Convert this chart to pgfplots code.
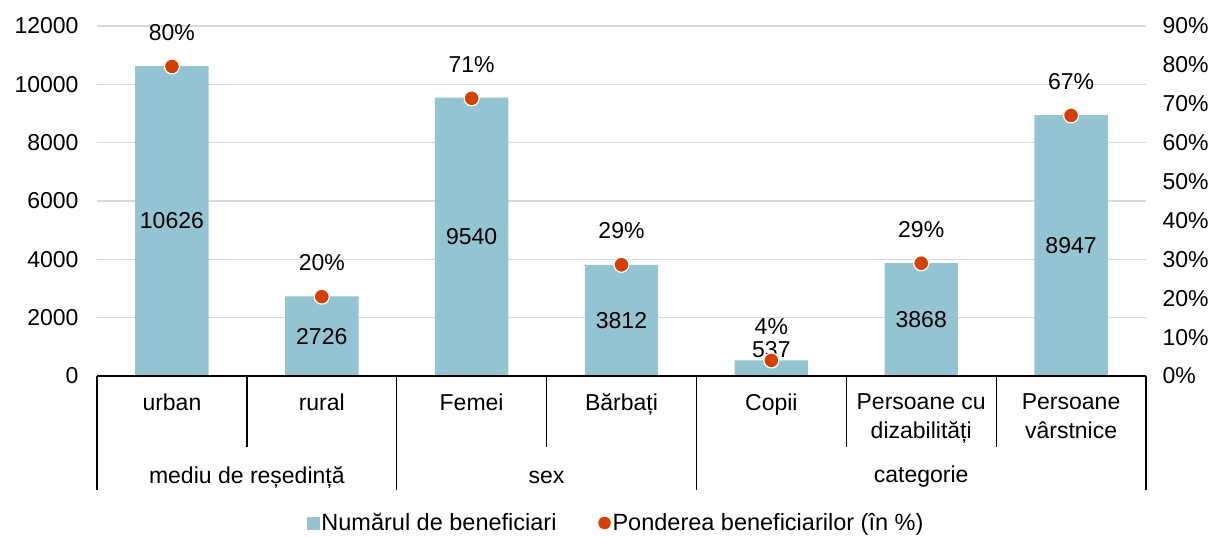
\documentclass[border=0pt]{standalone}
\usepackage{pgfplots}
\pgfplotsset{compat=1.18}
\usepackage{fontspec}
\setmainfont{Liberation Sans}
\definecolor{barcol}{RGB}{148,195,210}
\definecolor{dotcol}{RGB}{212,64,0}
\definecolor{gridcol}{RGB}{217,217,217}
\begin{document}
\begin{tikzpicture}[font=\fontsize{23}{28}\selectfont]
\begin{axis}[name=main, scale only axis, width=1049pt, height=350pt,
 xmin=-0.5, xmax=6.5, ymin=0, ymax=12000,
 axis line style={draw=none}, tick style={draw=none},
 scaled y ticks=false,
 ytick={0,2000,...,12000}, yticklabels={0,2000,4000,6000,8000,10000,12000},
 ymajorgrids, grid style={gridcol, line width=1.3pt},
 xtick={0,...,6},
 xticklabels={urban,rural,Femei,Bărbați,Copii,Persoane cu\\dizabilități,Persoane\\vârstnice},
 xticklabel style={align=center, anchor=north, yshift=-14pt, font=\fontsize{23}{29}\selectfont},
 yticklabel style={xshift=-15pt},
 clip=false]
\addplot[ybar, bar width=0.49, fill=barcol, draw=none] coordinates {(0,10626)(1,2726)(2,9540)(3,3812)(4,537)(5,3868)(6,8947)};
\addplot[draw=none, mark=none, nodes near coords, point meta=explicit symbolic,
  nodes near coords style={anchor=center}] coordinates {(0,5313)[10626] (1,1363)[2726] (2,4770)[9540] (3,1906)[3812] (4,891)[537] (5,1934)[3868] (6,4474)[8947]};
\draw[line width=1.3pt] (axis cs:-0.5,0) -- (axis cs:6.5,0);
\draw[line width=1.3pt] (axis cs:-0.5,0) -- ++(0pt,-114pt);
\draw[line width=1.3pt] (axis cs:1.5,0) -- ++(0pt,-114pt);
\draw[line width=1.3pt] (axis cs:3.5,0) -- ++(0pt,-114pt);
\draw[line width=1.3pt] (axis cs:6.5,0) -- ++(0pt,-114pt);
\draw[line width=1.3pt] (axis cs:0.5,0) -- ++(0pt,-71pt);
\draw[line width=1.3pt] (axis cs:2.5,0) -- ++(0pt,-71pt);
\draw[line width=1.3pt] (axis cs:4.5,0) -- ++(0pt,-71pt);
\draw[line width=1.3pt] (axis cs:5.5,0) -- ++(0pt,-71pt);
\node at (axis cs:0.5,0) [yshift=-101pt] {mediu de reședință};
\node at (axis cs:2.5,0) [yshift=-101pt] {sex};
\node at (axis cs:5,0) [yshift=-101pt] {categorie};
\end{axis}
\begin{axis}[scale only axis, width=1049pt, height=350pt,
 xmin=-0.5, xmax=6.5, ymin=0, ymax=90,
 axis line style={draw=none}, tick style={draw=none},
 xtick=\empty, ytick={0,10,...,90},
 yticklabels={0\%,10\%,20\%,30\%,40\%,50\%,60\%,70\%,80\%,90\%},
 yticklabel pos=right, yticklabel style={xshift=13pt},
 clip=false,
 legend style={draw=none, fill=none, at={(0.495,-0.42)}, anchor=center, legend columns=2,
   font=\fontsize{23.5}{28}\selectfont,
   /tikz/every even column/.append style={column sep=40pt}}]
\addplot[only marks, mark=*, mark size=7.5pt, mark options={fill=dotcol, draw=white, line width=1.2pt},
  nodes near coords, point meta=explicit symbolic,
  nodes near coords style={anchor=center, yshift=34pt}, forget plot]
  coordinates {(0,79.6)[80\%] (1,20.4)[20\%] (2,71.4)[71\%] (3,28.6)[29\%] (4,4.0)[4\%] (5,29.0)[29\%] (6,67.0)[67\%]};
\addlegendimage{legend image code/.code={\fill[barcol] (6pt,-6pt) rectangle (18pt,6pt);}}
\addlegendentry{Numărul de beneficiari}
\addlegendimage{only marks, mark=*, mark size=6pt, mark options={fill=dotcol, draw=dotcol}}
\addlegendentry{Ponderea beneficiarilor (în \%)}
\end{axis}
\pgfresetboundingbox
\path ([xshift=-97pt,yshift=-161pt]main.south west) rectangle ([xshift=71pt,yshift=26pt]main.north east);
\end{tikzpicture}
\end{document}
